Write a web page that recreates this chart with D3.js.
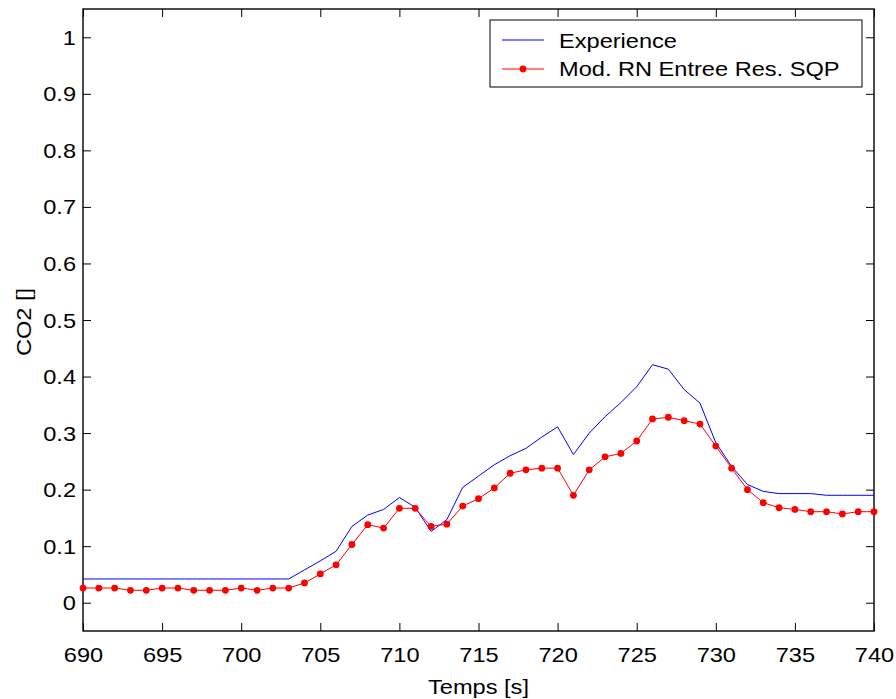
<!DOCTYPE html>
<html><head><meta charset="utf-8">
<script src="https://cdn.jsdelivr.net/npm/d3@7"></script>
<style>
html,body{margin:0;padding:0;background:#fff;}
svg{display:block;}
text{font-family:"Liberation Sans",Arial,sans-serif;fill:#000;}
</style></head>
<body>
<svg id="chart" width="896" height="699"></svg>
<script>
const times = [690,691,692,693,694,695,696,697,698,699,700,701,702,703,704,705,706,707,708,709,710,711,712,713,714,715,716,717,718,719,720,721,722,723,724,725,726,727,728,729,730,731,732,733,734,735,736,737,738,739,740];
const experience = [0.042,0.042,0.042,0.042,0.042,0.042,0.042,0.042,0.042,0.042,0.042,0.042,0.042,0.042,
  0.058,0.074,0.091,0.135,0.155,0.165,0.186,0.169,0.126,0.147,0.204,0.224,0.244,0.260,0.273,0.293,0.311,0.262,0.300,
  0.329,0.354,0.382,0.421,0.413,0.377,0.353,0.283,0.241,0.209,0.197,0.193,0.193,0.193,0.190,0.190,0.190,0.190];
const model = [0.026,0.026,0.026,0.022,0.022,0.026,0.026,0.022,0.022,0.022,0.026,0.022,0.026,0.026,
  0.035,0.051,0.067,0.103,0.138,0.132,0.167,0.167,0.135,0.139,0.171,0.184,0.203,0.229,0.235,0.238,0.238,0.190,0.235,
  0.258,0.264,0.286,0.325,0.328,0.322,0.316,0.277,0.238,0.200,0.177,0.168,0.165,0.161,0.161,0.157,0.161,0.161];
const xTicks = [690,695,700,705,710,715,720,725,730,735,740];
const yTicks = [0,0.1,0.2,0.3,0.4,0.5,0.6,0.7,0.8,0.9,1];
const yTickLabels = ["0","0.1","0.2","0.3","0.4","0.5","0.6","0.7","0.8","0.9","1"];
const seriesNames = ["Experience","Mod. RN Entree Res. SQP"];
const colors = ["#0000ff","#ff0000"];

const L=83, R=874, T=9, B=631;
const SX = 1.18, FS = 20;
const svg = d3.select("#chart");
const x = d3.scaleLinear().domain([690,740]).range([L,R]);
const y = d3.scaleLinear().domain([-0.05,1.05]).range([B,T]);

function stext(g, str, tx, ty, anchor){
  return g.append("text").attr("transform",`translate(${tx},${ty}) scale(${SX},1)`)
    .attr("text-anchor",anchor).style("font-size",FS+"px").text(str);
}

// axes (inward ticks)
const tl = 8;
const axB = svg.append("g").attr("transform",`translate(0,${B})`)
  .call(d3.axisBottom(x).tickValues(xTicks).tickSize(-tl).tickFormat(d3.format("d")));
const axT = svg.append("g").attr("transform",`translate(0,${T})`)
  .call(d3.axisTop(x).tickValues(xTicks).tickSize(-tl).tickFormat(""));
const axL = svg.append("g").attr("transform",`translate(${L},0)`)
  .call(d3.axisLeft(y).tickValues(yTicks).tickSize(-tl).tickFormat((d,i)=>yTickLabels[i]));
const axR = svg.append("g").attr("transform",`translate(${R},0)`)
  .call(d3.axisRight(y).tickValues(yTicks).tickSize(-tl).tickFormat(""));
[axB,axT,axL,axR].forEach(a=>{
  a.select(".domain").remove();
  a.selectAll("line").attr("stroke","#000").attr("stroke-width",1);
});
axB.selectAll("text").attr("y",null).attr("dy",null)
  .attr("transform",`translate(0,31) scale(${SX},1)`).style("font-size",FS+"px").style("font-family","Liberation Sans, Arial, sans-serif");
axL.selectAll("text").attr("x",null).attr("dy",null)
  .attr("transform",`translate(-7,7) scale(${SX},1)`).style("font-size",FS+"px").style("font-family","Liberation Sans, Arial, sans-serif");

// frame
svg.append("rect").attr("x",L).attr("y",T).attr("width",R-L).attr("height",B-T)
  .attr("fill","none").attr("stroke","#000").attr("stroke-width",1.4);

// lines
const line = d3.line().x((d,i)=>x(times[i])).y(d=>y(d));
const plot = svg.append("g");
plot.append("path").datum(experience).attr("d",line).attr("fill","none").attr("stroke",colors[0]).attr("stroke-width",1);
plot.append("path").datum(model).attr("d",line).attr("fill","none").attr("stroke",colors[1]).attr("stroke-width",1);
plot.selectAll("circle.m").data(model).enter().append("circle").attr("class","m")
  .attr("cx",(d,i)=>x(times[i])).attr("cy",d=>y(d)).attr("r",3.4).attr("fill",colors[1]);

// axis labels
stext(svg,"Temps [s]",(L+R)/2,694,"middle");
svg.append("text").attr("transform",`translate(31,322) rotate(-90) scale(${SX},1)`)
  .attr("text-anchor","middle").style("font-size",FS+"px").text("CO2 []");

// legend
const lg = svg.append("g");
lg.append("rect").attr("x",490).attr("y",20).attr("width",372).attr("height",67)
  .attr("fill","#fff").attr("stroke","#000").attr("stroke-width",1);
const rowsY=[40,69], baseY=[47.5,76];
seriesNames.forEach((n,i)=>{
  lg.append("line").attr("x1",502).attr("x2",544).attr("y1",rowsY[i]).attr("y2",rowsY[i])
    .attr("stroke",colors[i]).attr("stroke-width",1);
  if(i===1) lg.append("circle").attr("cx",523).attr("cy",rowsY[i]).attr("r",3.4).attr("fill",colors[i]);
  stext(lg,n,559,baseY[i],"start");
});
</script>
</body></html>
